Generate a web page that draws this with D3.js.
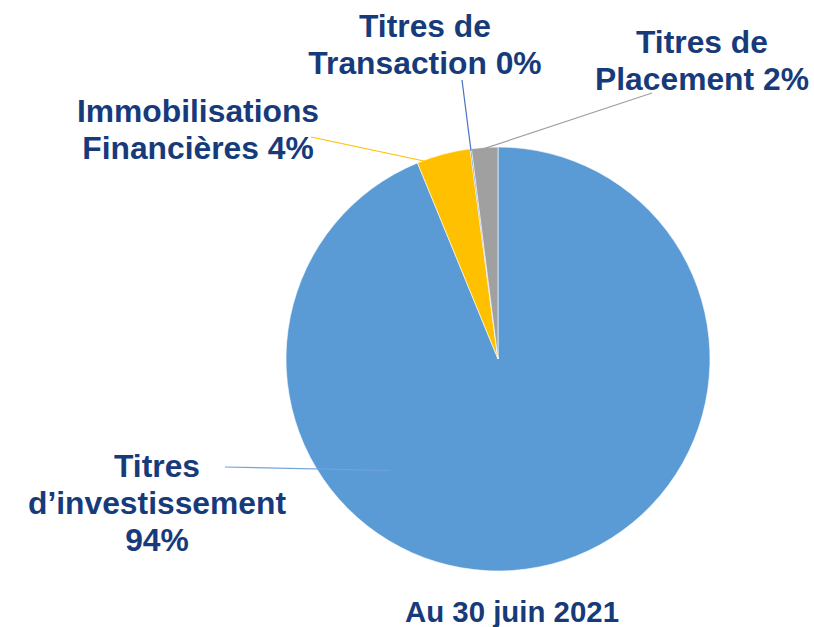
<!DOCTYPE html>
<html>
<head>
<meta charset="utf-8">
<script src="https://cdn.jsdelivr.net/npm/d3@7/dist/d3.min.js"></script>
<style>
  body { margin: 0; background: #fff; }
  svg text { font-family: "Liberation Sans", Arial, sans-serif; font-weight: bold; fill: #173b7a; }
</style>
</head>
<body>
<svg id="chart" width="814" height="627"></svg>
<script>
// parts of the portfolio, clockwise from 12 o'clock
var categories = ["Titres d\u2019investissement", "Immobilisations Financières", "Titres de Transaction", "Titres de Placement"];
var values = [93.8, 4.1, 0.1, 2.0];
var pctLabels = ["94%", "4%", "0%", "2%"];
var colors = ["#5b9bd5", "#ffc000", "#4472c4", "#a0a0a0"];

var svg = d3.select("#chart");
var cx = 498, cy = 359, r = 212;

var g = svg.append("g").attr("transform", "translate(" + cx + "," + cy + ")");

var pie = d3.pie().sort(null).value(d => d);
var arcs = pie(values);
var arc = d3.arc().innerRadius(0).outerRadius(r);

g.selectAll("path.slice")
	.data(arcs)
	.enter()
	.append("path")
		.attr("class", "slice")
		.attr("d", arc)
		.attr("fill", (d, i) => colors[i])
		.attr("stroke", "#fff")
		.attr("stroke-width", 0.6);

// point on a slice at a given radius (mid angle unless overridden)
var pt = function(d, rad, ang) {
	var a = (ang === undefined) ? (d.startAngle + d.endAngle) / 2 : ang;
	return [cx + rad * Math.sin(a), cy - rad * Math.cos(a)];
}

// label blocks: lines, centre x, first baseline, leader line start
var labels = [
	{lines: ["Titres", "d\u2019investissement", pctLabels[0]], x: 157, y: 477, lx: 225, ly: 467, p: pt(arcs[0], 155, 224 * Math.PI / 180)},
	{lines: ["Immobilisations", "Financières " + pctLabels[1]], x: 198, y: 122, lx: 311, ly: 137, p: pt(arcs[1], 200)},
	{lines: ["Titres de", "Transaction " + pctLabels[2]], x: 425, y: 37, lx: 462, ly: 80, p: pt(arcs[2], 210)},
	{lines: ["Titres de", "Placement " + pctLabels[3]], x: 702, y: 53, lx: 652, ly: 93, p: pt(arcs[3], 211)}
];

labels.forEach(function(lb, i) {
	svg.append("line")
		.attr("x1", lb.lx).attr("y1", lb.ly)
		.attr("x2", lb.p[0]).attr("y2", lb.p[1])
		.attr("stroke", i == 0 ? "#6fa3da" : colors[i])
		.attr("stroke-width", 1.2);

	var t = svg.append("text")
		.attr("text-anchor", "middle")
		.attr("font-size", "31.8px");
	lb.lines.forEach(function(s, j) {
		t.append("tspan")
			.attr("x", lb.x)
			.attr("y", lb.y + j * 36.8)
			.text(s);
	});
});

svg.append("text")
	.attr("text-anchor", "middle")
	.attr("x", 512)
	.attr("y", 622)
	.attr("font-size", "29.4px")
	.text("Au 30 juin 2021");
</script>
</body>
</html>
